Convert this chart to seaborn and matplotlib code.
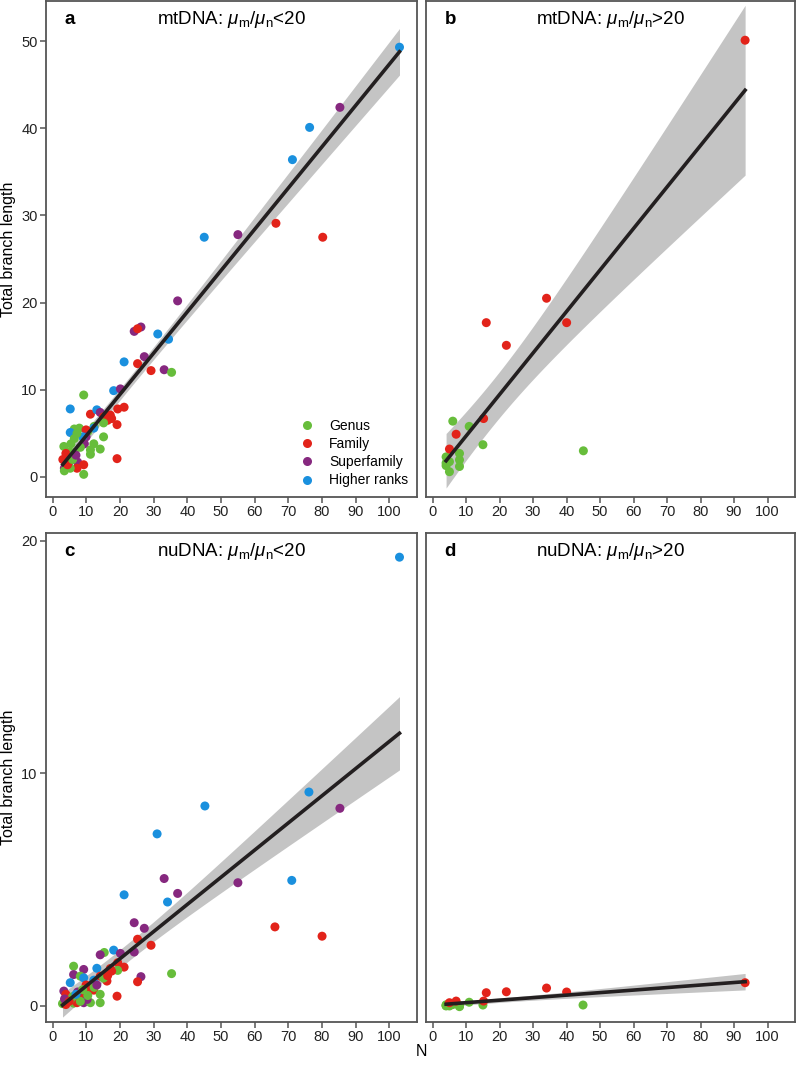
import numpy as np
import pandas as pd
import matplotlib
matplotlib.use("Agg")
import matplotlib.pyplot as plt
import seaborn as sns
from matplotlib.lines import Line2D

# panel a: mtDNA, mu_m/mu_n < 20
a_n = [103, 85.3, 76.3, 71.2, 66.3, 80.2, 55, 45, 37.1, 24.2, 26.2, 25.2, 31.2, 34.4,
       27.2, 21.2, 25.2, 29.2, 33.1, 35.3, 18.1, 20.1, 9.2, 5.2, 11.2, 13.1, 14.1, 15.1,
       17.1, 17.5, 19.3, 21.2, 16.3, 15.1, 19.1, 12.3, 12.2, 6.4, 7.9, 5.2, 10.4, 9.9,
       9.9, 8.9, 15.1, 6.4, 9.4, 12.2, 14.1, 11.2, 11.2, 3.3, 5.4, 4.9, 19.1, 3.9, 6.4,
       3.0, 4.9, 6.4, 7.4, 9.2, 3.45, 7.2, 3.45, 9.2, 5.2, 4.4, 5.9, 7.2, 8.2, 6.9]
a_len = [49.3, 42.4, 40.1, 36.4, 29.1, 27.5, 27.8, 27.5, 20.2, 16.7, 17.2, 17.0, 16.4, 15.8,
         13.8, 13.2, 13.0, 12.2, 12.3, 12.0, 9.9, 10.1, 9.4, 7.8, 7.2, 7.7, 7.4, 6.9,
         7.1, 6.7, 7.8, 8.0, 6.5, 6.2, 6.0, 5.8, 5.6, 5.5, 5.6, 5.1, 5.2, 5.4,
         4.6, 4.6, 4.6, 4.4, 3.8, 3.8, 3.2, 3.1, 2.6, 3.5, 3.8, 2.9, 2.1, 2.7, 2.4,
         2.0, 1.7, 2.8, 1.7, 1.4, 1.0, 1.0, 0.7, 0.3, 1.0, 1.4, 2.0, 5.0, 3.4, 2.5]
a_rank = list("HSHHFFSHSSSFHHSHFFSGHSGHFHSFFFFFFGFGHGGHGFSHGGSGGGGGGGFFFFSGSFSFGGGFGGGS")

# panel b: mtDNA, mu_m/mu_n > 20
b_n = [4, 4, 4, 5, 5, 6, 8, 8, 8, 10.9, 15, 45, 5, 7, 15.2, 16, 22, 34, 40, 93.3]
b_len = [2.3, 1.6, 1.3, 1.75, 0.6, 6.4, 2.7, 1.96, 1.2, 5.8, 3.7, 3.0, 3.2, 4.9, 6.7, 17.7,
         15.1, 20.5, 17.7, 50.1]
b_rank = list("GGGGGGGGGGGGFFFFFFFF")

# panel c: nuDNA, mu_m/mu_n < 20
c_n = [103, 85.3, 76.1, 71, 55, 45.2, 66, 80, 31, 33.1, 37.1, 21.2, 34.1, 24.2, 27.2,
       25.2, 29.2, 24.2, 18.1, 15.3, 14.1, 20.1, 19.3, 21.2, 19.3, 17.1, 6.2, 9.2, 13.1,
       6.2, 8.2, 9.2, 12.2, 14.1, 16.1, 15.1, 5.2, 26.2, 25.2, 35.3, 19.1, 3.3, 3.9, 11.2,
       12.2, 14.1, 14.1, 7.2, 9.2, 9.2, 11.2, 2.9, 3.9, 6.2, 10.2, 7.2, 5.2,
       4.4, 5.9, 7.4, 8.2, 3.5, 9.9, 12.3, 6.9, 4.9, 10.4, 13.1, 17.5, 16.3, 8.9]
c_len = [19.3, 8.5, 9.2, 5.4, 5.3, 8.6, 3.4, 3.0, 7.4, 5.48, 4.84, 4.78, 4.47, 3.58, 3.34,
         2.87, 2.61, 2.32, 2.4, 2.3, 2.2, 2.26, 1.86, 1.67, 1.53, 1.61, 1.71, 1.57, 1.62,
         1.35, 1.28, 1.21, 1.11, 1.28, 1.07, 1.2, 1.0, 1.26, 1.04, 1.39, 0.42, 0.64, 0.5, 0.68,
         0.68, 0.5, 0.14, 0.35, 0.5, 0.14, 0.14, 0.1, 0.06, 0.12, 0.28, 0.14, 0.28,
         0.3, 0.4, 0.6, 0.2, 0.3, 0.9, 0.8, 0.5, 0.2, 0.45, 0.9, 1.5, 1.3, 0.7]
c_rank = list("HSHHSHFFHSSHHSSFFSHGSSFFGFGSHSGHHFFGHSFGFSFFFGGFFSGGFGSFG"
              "FGSGRFGHFGRFFG".replace("R", "S"))

# panel d: nuDNA, mu_m/mu_n > 20
d_n = [4, 4, 4, 5, 5, 6, 8, 8, 8, 10.9, 15, 44.9, 5, 7, 15.2, 16, 22, 34, 40, 93.3]
d_len = [0.0, 0.05, 0.02, 0.03, 0.0, 0.06, -0.03, 0.0, 0.02, 0.16, 0.04, 0.04, 0.14, 0.21,
         0.21, 0.57, 0.61, 0.77, 0.6, 1.0]
d_rank = list("GGGGGGGGGGGGFFFFFFFF")

rank_names = {"G": "Genus", "F": "Family", "S": "Superfamily", "H": "Higher ranks"}
palette = {"Genus": "#67BD3B", "Family": "#E2231A", "Superfamily": "#86287F", "Higher ranks": "#1A90DE"}


def t975(df):
    # Cornish-Fisher expansion of the Student t 97.5% quantile
    z = 1.959964
    return (z + (z**3 + z) / (4 * df) + (5 * z**5 + 16 * z**3 + 3 * z) / (96 * df**2)
            + (3 * z**7 + 19 * z**5 + 17 * z**3 - 15 * z) / (384 * df**3))


def lm_band(x, y, grid):
    x = np.asarray(x, float)
    y = np.asarray(y, float)
    slope, icpt = np.polyfit(x, y, 1)
    resid = y - (icpt + slope * x)
    dof = len(x) - 2
    s = np.sqrt((resid**2).sum() / dof)
    se = s * np.sqrt(1 / len(x) + (grid - x.mean())**2 / ((x - x.mean())**2).sum())
    pred = icpt + slope * grid
    return pred - t975(dof) * se, pred + t975(dof) * se


plt.rcParams["font.family"] = ["Liberation Sans", "DejaVu Sans"]
plt.rcParams["mathtext.fontset"] = "custom"
plt.rcParams["mathtext.rm"] = "Liberation Sans"
plt.rcParams["mathtext.it"] = "Liberation Sans:italic"

fig = plt.figure(figsize=(7.97, 10.69), dpi=100)
W, H = 797, 1069
boxes = {
    "a": (46, 1, 417, 497),
    "b": (426, 1, 795, 497),
    "c": (46, 533, 417, 1022),
    "d": (426, 533, 795, 1022),
}
panels = {
    "a": (a_n, a_len, a_rank, "mtDNA: $\\mu_\\mathrm{m}/\\mu_\\mathrm{n}$<20"),
    "b": (b_n, b_len, b_rank, "mtDNA: $\\mu_\\mathrm{m}/\\mu_\\mathrm{n}$>20"),
    "c": (c_n, c_len, c_rank, "nuDNA: $\\mu_\\mathrm{m}/\\mu_\\mathrm{n}$<20"),
    "d": (d_n, d_len, d_rank, "nuDNA: $\\mu_\\mathrm{m}/\\mu_\\mathrm{n}$>20"),
}
edge = "#555555"

for key, (x0, y0, x1, y1) in boxes.items():
    ax = fig.add_axes([x0 / W, 1 - y1 / H, (x1 - x0) / W, (y1 - y0) / H])
    n, ln, rk, title = panels[key]
    df = pd.DataFrame({"N": n, "len": ln, "rank": [rank_names[r] for r in rk]})

    grid = np.linspace(min(n), max(n), 200)
    lo, hi = lm_band(n, ln, grid)
    ax.fill_between(grid, lo, hi, color="#C4C4C4", lw=0, zorder=1)
    sns.scatterplot(data=df, x="N", y="len", hue="rank", palette=palette, s=42,
                    linewidth=0, ax=ax, legend=False, zorder=2)
    sns.regplot(data=df, x="N", y="len", scatter=False, ci=None, ax=ax,
                color="#231F20", line_kws={"lw": 2.6, "zorder": 4})

    ax.set_xlim(-2.0, 108.2)
    if key in "ab":
        ax.set_ylim(-2.3, 54.6)
        ax.set_yticks([0, 10, 20, 30, 40, 50])
    else:
        ax.set_ylim(-0.69, 20.34)
        ax.set_yticks([0, 10, 20])
    ax.set_xticks(range(0, 101, 10))
    ax.set_xlabel("")
    ax.set_ylabel("")
    for s in ax.spines.values():
        s.set_color(edge)
        s.set_linewidth(1.3)
    ax.tick_params(length=4, width=1.1, color=edge, labelsize=10.5, labelcolor="#222222", pad=2)
    if key in "bd":
        ax.tick_params(axis="y", left=False, labelleft=False)
    else:
        ax.set_ylabel("Total branch length", fontsize=11.5)
        ax.yaxis.set_label_coords(-29.5 / (x1 - x0), 0.5)
    ax.text(0.05, 0.962, key, transform=ax.transAxes, fontsize=13.5, fontweight="bold",
            ha="left", va="center")
    ax.text(0.5, 0.962, title, transform=ax.transAxes, fontsize=13.5, ha="center", va="center")

    if key == "a":
        handles = [Line2D([], [], marker="o", linestyle="", markersize=6.5,
                          markerfacecolor=palette[k], markeredgewidth=0, label=k)
                   for k in palette]
        ax.legend(handles=handles, loc="lower right", bbox_to_anchor=(1.01, -0.006),
                  frameon=False, fontsize=10, handletextpad=0.6, labelspacing=0.3)

fig.text(421 / W, 1 - 1052 / H, "N", ha="center", va="center", fontsize=11.5)
fig.savefig("out.png", dpi=100)
